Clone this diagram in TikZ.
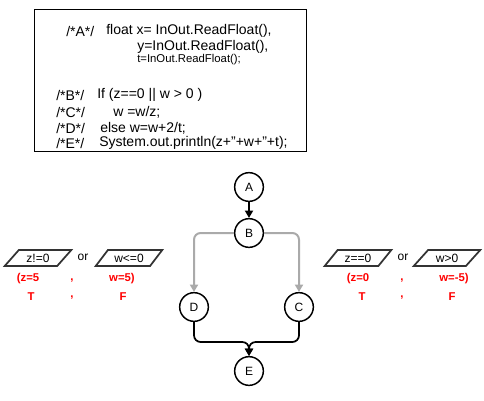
\documentclass[tikz,border=0pt]{standalone}
\usepackage{fontspec}
\setmainfont{Liberation Sans}
\usetikzlibrary{shapes.geometric,arrows.meta}

\definecolor{redtxt}{RGB}{255,0,0}
\definecolor{grayline}{RGB}{170,170,170}

\begin{document}
\begin{tikzpicture}[x=0.75pt,y=-0.75pt,
		code/.style={anchor=west, inner sep=0pt, font=\fontsize{10.5}{12}\selectfont},
		state/.style={draw, circle, line width=1.1pt, minimum size=21.5pt, inner sep=0pt, fill=white, font=\fontsize{9}{10}\selectfont},
		cond/.style={draw=black!80, trapezium, trapezium left angle=45, trapezium right angle=135, trapezium stretches=true, line width=1.3pt, minimum height=12pt, minimum width=50pt, inner sep=0pt, font=\fontsize{9}{10}\selectfont},
		val/.style={text=redtxt, font=\bfseries\fontsize{8.5}{9}\selectfont, inner sep=0pt},
		flow/.style={-{Triangle[length=5.5pt, width=6pt]}, line width=1.3pt, rounded corners=5pt},
		branch/.style={flow, draw=grayline, line width=1.5pt}]
			\useasboundingbox (0,0) rectangle (484,400);

			% source code box
			\node[draw, line width=0.8pt, minimum width=204pt, minimum height=106pt, inner sep=0pt] (box) at (170.5,80.5) {};
			\node[code] (lA) at (66,31) {/*A*/};
			\node[code] (cA1) at (106,31) {float x= InOut.ReadFloat(),};
			\node[code] (cA2) at (137,47) {y=InOut.ReadFloat(),};
			\node[code, font=\fontsize{8.5}{10}\selectfont] (cA3) at (137,60) {t=InOut.ReadFloat();};
			\node[code] (lB) at (56,95) {/*B*/};
			\node[code] (cB) at (97,95) {If (z==0 || w > 0 )};
			\node[code] (lC) at (56,112) {/*C*/};
			\node[code] (cC) at (113,112) {w =w/z;};
			\node[code] (lD) at (56,128) {/*D*/};
			\node[code] (cD) at (100,128) {else w=w+2/t;};
			\node[code] (lE) at (56,143) {/*E*/};
			\node[code] (cE) at (99,143) {System.out.println(z+''+w+''+t);};

			% flow graph
			\node[state] (A) at (249,187) {A};
			\node[state] (B) at (249,233) {B};
			\node[state] (D) at (194,307) {D};
			\node[state] (C) at (299,307) {C};
			\node[state] (E) at (249,371) {E};
			\coordinate (join) at (249,342);

			\draw[flow] (A) -- (B);
			\draw[branch] (B.west) -| (D.north);
			\draw[branch] (B.east) -| (C.north);
			\draw[flow] (D.south) |- (join) -- (E.north);
			\draw[flow] (C.south) |- (join) -- (E.north);

			% conditions of D
			\node[cond] (z1) at (38,258) {z!=0};
			\node[font=\fontsize{9}{10}\selectfont] (or1) at (83,257) {or};
			\node[cond] (w1) at (129,258) {w<=0};
			\node[val] (z1v) at (28,279) {(z=5};
			\node[val] (c1) at (72,281) {,};
			\node[val] (w1v) at (122,279) {w=5)};
			\node[val] (z1t) at (31,297) {T};
			\node[val] (c2) at (72,298) {,};
			\node[val] (w1t) at (123,297) {F};

			% conditions of C
			\node[cond] (z2) at (358,258) {z==0};
			\node[font=\fontsize{9}{10}\selectfont] (or2) at (403,257) {or};
			\node[cond] (w2) at (447,258) {w>0};
			\node[val] (z2v) at (358,279) {(z=0};
			\node[val] (c3) at (402,281) {,};
			\node[val] (w2v) at (454,279) {w=-5)};
			\node[val] (z2t) at (362,297) {T};
			\node[val] (c4) at (402,298) {,};
			\node[val] (w2t) at (452,297) {F};
		\end{tikzpicture}
\end{document}
